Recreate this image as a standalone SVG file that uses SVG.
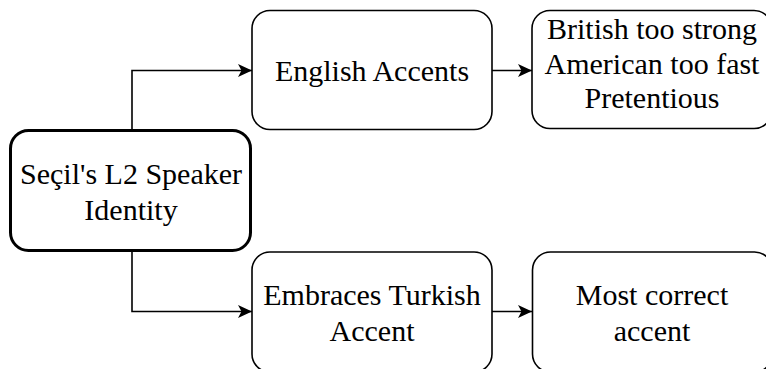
<svg xmlns="http://www.w3.org/2000/svg" width="766" height="369" viewBox="0 0 766 369">
  <style>
    .box { fill: #ffffff; stroke: #000000; stroke-width: 1.6; }
    .main { stroke-width: 3; }
    .edge { fill: none; stroke: #000000; stroke-width: 1.6; marker-end: url(#arrow); }
  </style>
  <defs>
    <marker id="arrow" markerUnits="userSpaceOnUse" viewBox="0 0 14 13" refX="14" refY="6.5" markerWidth="14" markerHeight="13" orient="auto">
      <path d="M0,0 L14,6.5 L0,13 L3.5,6.5 Z" fill="#000000"/>
    </marker>
  </defs>
  <rect width="766" height="369" fill="#ffffff"/>

  <g id="connectors">
    <path class="edge" d="M132,130 L132,70.5 L252,70.5"/>
    <path class="edge" d="M132,250 L132,311.5 L252,311.5"/>
    <path class="edge" d="M492,70.5 L532,70.5"/>
    <path class="edge" d="M492,311.5 L532,311.5"/>
  </g>

  <g id="speaker-identity">
    <rect class="box main" x="10.5" y="130.5" width="240" height="120" rx="18" ry="18"/>
    <text x="131" y="184" font-family="Liberation Serif" font-size="30" text-anchor="middle" fill="#000000">Seçil's L2 Speaker</text>
    <text x="131" y="220" font-family="Liberation Serif" font-size="30" text-anchor="middle" fill="#000000">Identity</text>
  </g>

  <g id="english-accents">
    <rect class="box" x="252" y="10.5" width="240" height="119" rx="18" ry="18"/>
    <text x="372" y="81" font-family="Liberation Serif" font-size="30" text-anchor="middle" fill="#000000">English Accents</text>
  </g>

  <g id="english-opinions">
    <rect class="box" x="532" y="10.5" width="240" height="118" rx="18" ry="18"/>
    <text x="652" y="39" font-family="Liberation Serif" font-size="30" text-anchor="middle" fill="#000000">British too strong</text>
    <text x="652" y="74" font-family="Liberation Serif" font-size="30" text-anchor="middle" fill="#000000">American too fast</text>
    <text x="652" y="108" font-family="Liberation Serif" font-size="30" text-anchor="middle" fill="#000000">Pretentious</text>
  </g>

  <g id="turkish-accent">
    <rect class="box" x="252" y="252" width="240" height="120" rx="18" ry="18"/>
    <text x="372" y="305" font-family="Liberation Serif" font-size="30" text-anchor="middle" fill="#000000">Embraces Turkish</text>
    <text x="372" y="341" font-family="Liberation Serif" font-size="30" text-anchor="middle" fill="#000000">Accent</text>
  </g>

  <g id="most-correct">
    <rect class="box" x="532.5" y="252" width="240" height="120" rx="18" ry="18"/>
    <text x="652" y="305" font-family="Liberation Serif" font-size="30" text-anchor="middle" fill="#000000">Most correct</text>
    <text x="652" y="341" font-family="Liberation Serif" font-size="30" text-anchor="middle" fill="#000000">accent</text>
  </g>
</svg>
